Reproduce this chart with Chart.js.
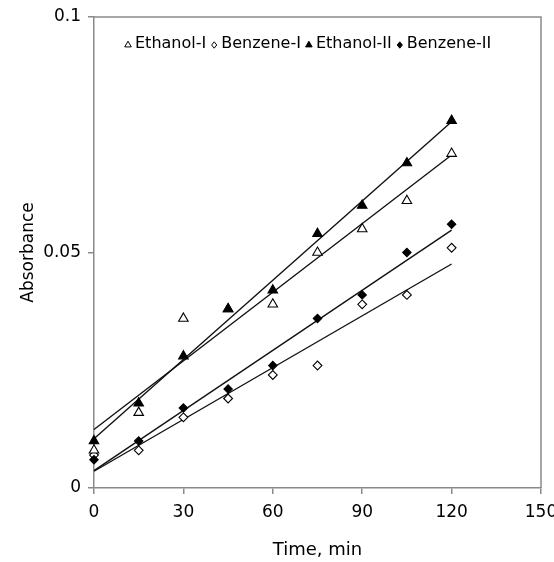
<!DOCTYPE html>
<html>
<head>
<meta charset="utf-8">
<script src="https://cdn.jsdelivr.net/npm/chart.js@4/dist/chart.umd.min.js"></script>
<style>
  html, body { margin: 0; padding: 0; background: #fff; }
  #wrap { width: 554px; height: 562px; }
</style>
</head>
<body>
<div id="wrap"><canvas id="c" width="554" height="562"></canvas></div>
<script>
// Sampling times (min)
const times = [0, 15, 30, 45, 60, 75, 90, 105, 120];

// Absorbance readings for each run
const ethanolI  = [0.008, 0.016, 0.036, 0.038, 0.039, 0.050, 0.055, 0.061, 0.071];
const benzeneI  = [0.007, 0.008, 0.015, 0.019, 0.024, 0.026, 0.039, 0.041, 0.051];
const ethanolII = [0.010, 0.018, 0.028, 0.038, 0.042, 0.054, 0.060, 0.069, 0.078];
const benzeneII = [0.006, 0.010, 0.017, 0.021, 0.026, 0.036, 0.041, 0.050, 0.056];

const seriesNames = ['Ethanol-I', 'Benzene-I', 'Ethanol-II', 'Benzene-II'];
const xTicks = [0, 30, 60, 90, 120, 150];
const yTickLabels = ['0', '0.05', '0.1'];

const AXIS_GREY = '#8a8a8a';
const FONT = 'DejaVu Sans';

// Least-squares straight line through a run, spanning the sampled times
function fitLine(xs, ys) {
  const n = xs.length;
  const mx = xs.reduce((a, b) => a + b, 0) / n;
  const my = ys.reduce((a, b) => a + b, 0) / n;
  let sxy = 0, sxx = 0;
  for (let i = 0; i < n; i++) {
    sxy += (xs[i] - mx) * (ys[i] - my);
    sxx += (xs[i] - mx) * (xs[i] - mx);
  }
  const m = sxy / sxx, b = my - m * mx;
  const x0 = Math.min(...xs), x1 = Math.max(...xs);
  return [{ x: x0, y: b + m * x0 }, { x: x1, y: b + m * x1 }];
}

const pts = ys => times.map((t, i) => ({ x: t, y: ys[i] }));

const runs = [
  { label: seriesNames[0], values: ethanolI,  style: 'triangle', filled: false, radius: 5.5, order: 1 },
  { label: seriesNames[1], values: benzeneI,  style: 'rectRot',  filled: false, radius: 4.4, order: 1 },
  { label: seriesNames[2], values: ethanolII, style: 'triangle', filled: true,  radius: 5.5, order: 0 },
  { label: seriesNames[3], values: benzeneII, style: 'rectRot',  filled: true,  radius: 4.2, order: 0 }
];

const datasets = [];
runs.forEach(r => {
  datasets.push({
    label: r.label,
    data: pts(r.values),
    showLine: false,
    pointStyle: r.style,
    pointRadius: r.radius,
    pointHoverRadius: r.radius,
    pointBorderWidth: 1.1,
    pointBorderColor: '#000',
    pointBackgroundColor: r.filled ? '#000' : '#fff',
    order: r.order,
    clip: false
  });
});
runs.forEach(r => {
  datasets.push({
    label: r.label + ' fit',
    data: fitLine(times, r.values),
    showLine: true,
    borderColor: '#111',
    borderWidth: 1.4,
    pointRadius: 0,
    pointHoverRadius: 0,
    fill: false,
    order: 2,
    clip: false
  });
});

// Grey frame on the top and right sides of the plot
const framePlugin = {
  id: 'frame',
  afterDraw(chart) {
    const { ctx, chartArea: a } = chart;
    ctx.save();
    ctx.strokeStyle = AXIS_GREY;
    ctx.lineWidth = 1.5;
    ctx.beginPath();
    ctx.moveTo(a.left, a.top);
    ctx.lineTo(a.right, a.top);
    ctx.lineTo(a.right, a.bottom);
    ctx.stroke();
    ctx.restore();
  }
};

// Single-row key drawn inside the plot, near its top
function keyMarker(ctx, style, filled, x, y, r) {
  ctx.beginPath();
  if (style === 'triangle') {
    ctx.moveTo(x, y - r);
    ctx.lineTo(x + r * 0.866, y + r * 0.5);
    ctx.lineTo(x - r * 0.866, y + r * 0.5);
  } else {
    ctx.moveTo(x, y - r);
    ctx.lineTo(x + r * 0.8, y);
    ctx.lineTo(x, y + r);
    ctx.lineTo(x - r * 0.8, y);
  }
  ctx.closePath();
  ctx.fillStyle = filled ? '#000' : '#fff';
  ctx.fill();
  ctx.strokeStyle = '#000';
  ctx.lineWidth = 1;
  ctx.stroke();
}

const keyPlugin = {
  id: 'key',
  afterDatasetsDraw(chart) {
    const { ctx, chartArea: a } = chart;
    ctx.save();
    ctx.font = '16px "' + FONT + '"';
    ctx.textBaseline = 'middle';
    ctx.textAlign = 'left';
    let x = a.left + 31;
    const y = a.top + 27;
    runs.forEach(r => {
      keyMarker(ctx, r.style, r.filled, x + 3, y + 1, r.style === 'triangle' ? 3.8 : 3.2);
      const tx = x + 10;
      ctx.fillStyle = '#000';
      ctx.fillText(r.label, tx, y);
      x = tx + ctx.measureText(r.label).width + 5;
    });
    ctx.restore();
  }
};

new Chart(document.getElementById('c'), {
  type: 'scatter',
  data: { datasets },
  options: {
    responsive: false,
    animation: false,
    events: [],
    layout: { padding: { top: 17, right: 13, bottom: 0, left: 0 } },
    plugins: {
      legend: { display: false },
      tooltip: { enabled: false }
    },
    scales: {
      x: {
        type: 'linear',
        min: 0,
        max: 150,
        afterBuildTicks(scale) { scale.ticks = xTicks.map(v => ({ value: v })); },
        ticks: {
          color: '#000',
          font: { family: FONT, size: 17 },
          padding: 8,
          maxRotation: 0,
          callback: v => String(v)
        },
        grid: {
          display: true,
          drawOnChartArea: false,
          drawTicks: true,
          tickLength: 6,
          color: AXIS_GREY,
          lineWidth: 1.5
        },
        border: { display: true, color: AXIS_GREY, width: 1.5 },
        title: {
          display: true,
          text: 'Time, min',
          color: '#000',
          font: { family: FONT, size: 18 },
          padding: { top: 0, bottom: 1 }
        },
        afterFit(scale) {
          scale.height = 74;
          scale.paddingLeft = 0;
          scale.paddingRight = 0;
        }
      },
      y: {
        type: 'linear',
        min: 0,
        max: 0.1,
        afterBuildTicks(scale) { scale.ticks = yTickLabels.map(s => ({ value: parseFloat(s) })); },
        ticks: {
          color: '#000',
          font: { family: FONT, size: 17 },
          padding: 7,
          callback: (v, i) => yTickLabels[i]
        },
        grid: {
          display: true,
          drawOnChartArea: false,
          drawTicks: true,
          tickLength: 6,
          color: AXIS_GREY,
          lineWidth: 1.5
        },
        border: { display: true, color: AXIS_GREY, width: 1.5 },
        title: {
          display: true,
          text: 'Absorbance',
          color: '#000',
          font: { family: FONT, size: 17 },
          padding: { top: 18, bottom: 0 }
        },
        afterFit(scale) {
          scale.width = 94;
          scale.paddingTop = 0;
          scale.paddingBottom = 0;
        }
      }
    }
  },
  plugins: [framePlugin, keyPlugin]
});
</script>
</body>
</html>
